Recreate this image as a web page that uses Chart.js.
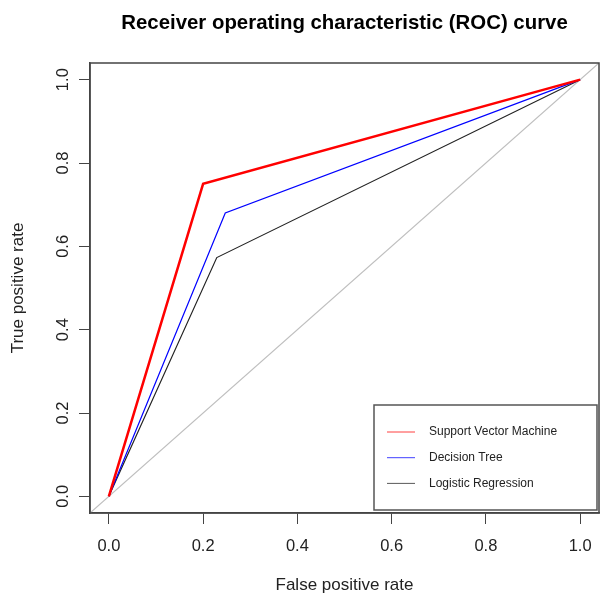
<!DOCTYPE html>
<html>
<head>
<meta charset="utf-8">
<script src="https://cdn.jsdelivr.net/npm/chart.js@4/dist/chart.umd.min.js"></script>
<style>
  html, body { margin: 0; padding: 0; background: #fff; }
  #wrap { width: 601px; height: 594px; }
</style>
</head>
<body>
<div id="wrap"><canvas id="roc"></canvas></div>
<script>
const modelNames = ["Support Vector Machine", "Decision Tree", "Logistic Regression"];
const svmFpr = [0, 0.2, 1];
const svmTpr = [0, 0.75, 1];
const treeFpr = [0, 0.247, 1];
const treeTpr = [0, 0.68, 1];
const logitFpr = [0, 0.229, 1];
const logitTpr = [0, 0.573, 1];
const chanceLine = [-0.04, 1.04];
const tickValues = [0, 0.2, 0.4, 0.6, 0.8, 1];

const FONT = "'Liberation Sans', Arial, Helvetica, sans-serif";

const toPoints = (xs, ys) => xs.map((x, i) => ({ x, y: ys[i] }));

// frame, title and legend box like base R graphics
const rFrame = {
  id: "rFrame",
  afterDraw(chart) {
    const { ctx, chartArea: a } = chart;
    ctx.save();
    ctx.strokeStyle = "#444";
    ctx.lineWidth = 1.5;
    ctx.strokeRect(a.left, a.top, a.right - a.left, a.bottom - a.top);

    ctx.fillStyle = "#000";
    ctx.font = "bold 20.4px " + FONT;
    ctx.textAlign = "center";
    ctx.textBaseline = "alphabetic";
    ctx.fillText("Receiver operating characteristic (ROC) curve", (a.left + a.right) / 2, 29);

    // legend
    const lx = 374, ly = 405, lw = 223, lh = 105;
    ctx.fillStyle = "#fff";
    ctx.fillRect(lx, ly, lw, lh);
    ctx.strokeStyle = "#555";
    ctx.lineWidth = 1.5;
    ctx.strokeRect(lx, ly, lw, lh);
    ctx.font = "12px " + FONT;
    ctx.textAlign = "left";
    ctx.textBaseline = "middle";
    chart.data.datasets.filter(d => !d.hideInLegend).forEach((d, i) => {
      const y = 432 + i * 25.7;
      ctx.strokeStyle = d.borderColor;
      ctx.globalAlpha = 0.75;
      ctx.lineWidth = 1;
      ctx.beginPath();
      ctx.moveTo(387, y);
      ctx.lineTo(415, y);
      ctx.stroke();
      ctx.globalAlpha = 1;
      ctx.fillStyle = "#222";
      ctx.fillText(d.label, 429, y);
    });
    ctx.restore();
  }
};

const axis = (title, isY) => ({
  type: "linear",
  min: -0.04,
  max: 1.04,
  afterBuildTicks: (scale) => { scale.ticks = tickValues.map(v => ({ value: v })); },
  afterFit: (scale) => {
    if (isY) {
      scale.width = 90;
      scale.paddingTop = 0;
      scale.paddingBottom = 0;
    } else {
      scale.height = 81;
      scale.paddingLeft = 0;
      scale.paddingRight = 0;
    }
  },
  grid: {
    drawOnChartArea: false,
    drawTicks: true,
    tickLength: 11,
    tickColor: "#444",
    color: "#444"
  },
  border: { display: true, color: "#444", width: 1.5 },
  ticks: {
    color: "#222",
    font: { family: FONT, size: 16.5 },
    padding: isY ? 4 : 13,
    crossAlign: isY ? "center" : "near",
    minRotation: isY ? 90 : 0,
    maxRotation: isY ? 90 : 0,
    callback: (v) => Number(v).toFixed(1)
  },
  title: {
    display: true,
    text: title,
    color: "#222",
    font: { family: FONT, size: 17, lineHeight: 1 },
    padding: isY ? { top: 10, bottom: 0 } : { top: 0, bottom: 0 }
  }
});

new Chart(document.getElementById("roc"), {
  type: "scatter",
  data: {
    datasets: [
      {
        label: modelNames[0],
        data: toPoints(svmFpr, svmTpr),
        borderColor: "#ff0000",
        borderWidth: 2.5,
        order: 1
      },
      {
        label: modelNames[1],
        data: toPoints(treeFpr, treeTpr),
        borderColor: "#0000ff",
        borderWidth: 1.2,
        order: 2
      },
      {
        label: modelNames[2],
        data: toPoints(logitFpr, logitTpr),
        borderColor: "#222222",
        borderWidth: 1.2,
        order: 3
      },
      {
        label: "chance",
        hideInLegend: true,
        data: toPoints(chanceLine, chanceLine),
        borderColor: "#bebebe",
        borderWidth: 1.2,
        order: 4
      }
    ].map(d => Object.assign({ showLine: true, pointRadius: 0, fill: false, tension: 0 }, d))
  },
  options: {
    responsive: true,
    maintainAspectRatio: false,
    animation: false,
    layout: { padding: { top: 63, right: 2, left: 0, bottom: 0 } },
    plugins: {
      legend: { display: false },
      tooltip: { enabled: false }
    },
    scales: {
      x: axis("False positive rate", false),
      y: axis("True positive rate", true)
    }
  },
  plugins: [rFrame]
});
</script>
</body>
</html>
